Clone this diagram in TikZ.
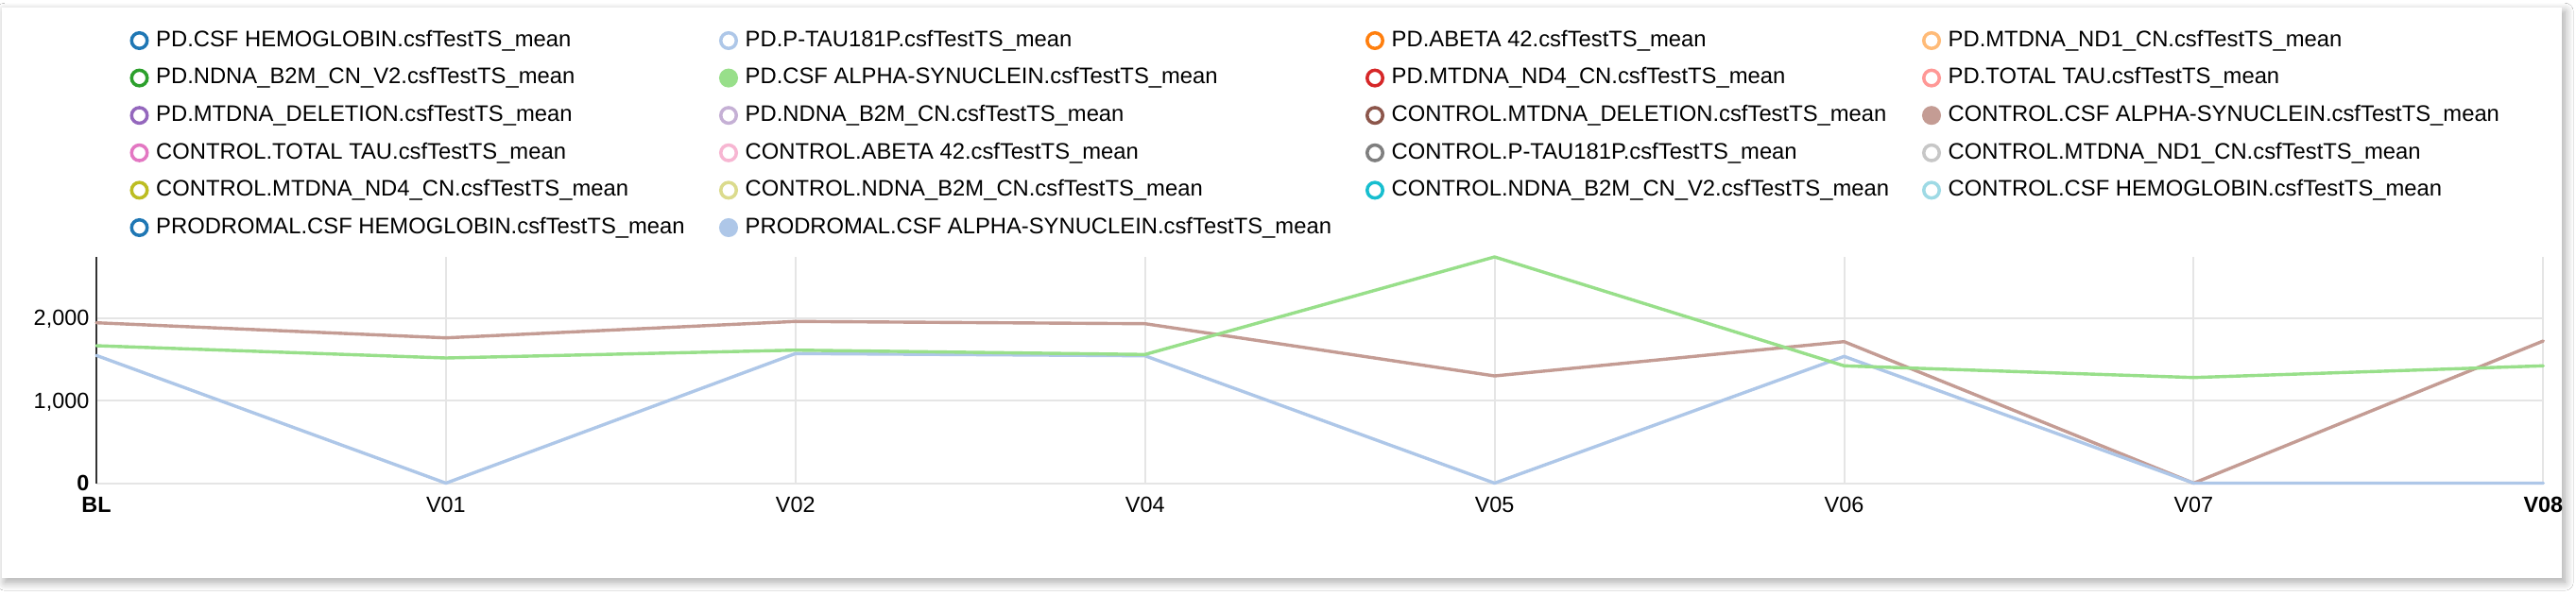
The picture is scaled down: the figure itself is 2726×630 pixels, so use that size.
\documentclass[tikz,border=0pt]{standalone}
\usepackage{fontspec}
\setmainfont{Liberation Sans}
\usetikzlibrary{shadows.blur}
\definecolor{cA}{HTML}{1F77B4}
\definecolor{cB}{HTML}{AEC7E8}
\definecolor{cC}{HTML}{FF7F0E}
\definecolor{cD}{HTML}{FFBB78}
\definecolor{cE}{HTML}{2CA02C}
\definecolor{cF}{HTML}{98DF8A}
\definecolor{cG}{HTML}{D62728}
\definecolor{cH}{HTML}{FF9896}
\definecolor{cI}{HTML}{9467BD}
\definecolor{cJ}{HTML}{C5B0D5}
\definecolor{cK}{HTML}{8C564B}
\definecolor{cL}{HTML}{C49C94}
\definecolor{cM}{HTML}{E377C2}
\definecolor{cN}{HTML}{F7B6D2}
\definecolor{cO}{HTML}{7F7F7F}
\definecolor{cP}{HTML}{C7C7C7}
\definecolor{cQ}{HTML}{BCBD22}
\definecolor{cR}{HTML}{DBDB8D}
\definecolor{cS}{HTML}{17BECF}
\definecolor{cT}{HTML}{9EDAE5}
\definecolor{gridc}{HTML}{E5E5E5}
\definecolor{axisc}{HTML}{333333}
\newcommand\legitem[6]{%
  \node[legdot,draw=#4,fill=#5] (#6d) at (#2,#3) {};
  \node[legtext] (#6) at (#2+17.5,#3) {#1};
}
\begin{document}
\begin{tikzpicture}[x=1pt,y=-1pt,
  legdot/.style={circle,line width=3.5pt,minimum size=16.5pt,inner sep=0pt},
  legtext/.style={anchor=west,inner sep=0pt,font=\fontsize{23.8}{27}\selectfont},
  ticklab/.style={inner sep=0pt,font=\fontsize{23.4}{27}\selectfont},
  boldlab/.style={font=\fontsize{23.4}{27}\selectfont\bfseries},
  gridline/.style={draw=gridc,line width=2pt},
  series/.style={line width=3.4pt,line join=round,line cap=round}]
\useasboundingbox (0,0) rectangle (2726,630);
\fill[white] (0,0) rectangle (2726,630);
% card with shadow
\node[draw=none,fill=white,minimum width=2709pt,minimum height=604pt,inner sep=0pt,anchor=north west,
  blur shadow={shadow xshift=3pt,shadow yshift=-4pt,shadow blur radius=9pt,shadow blur steps=12,shadow opacity=35}] (card) at (2,8) {};
% legend
\def\ya{43}\def\yb{82.6}\def\yc{122.2}\def\yd{161.8}\def\ye{201.4}\def\yf{241}
\legitem{PD.CSF HEMOGLOBIN.csfTestTS\_mean}{147.5}{\ya}{cA}{white}{l1}
\legitem{PD.P-TAU181P.csfTestTS\_mean}{771}{\ya}{cB}{white}{l2}
\legitem{PD.ABETA 42.csfTestTS\_mean}{1455}{\ya}{cC}{white}{l3}
\legitem{PD.MTDNA\_ND1\_CN.csfTestTS\_mean}{2044}{\ya}{cD}{white}{l4}
\legitem{PD.NDNA\_B2M\_CN\_V2.csfTestTS\_mean}{147.5}{\yb}{cE}{white}{l5}
\legitem{PD.CSF ALPHA-SYNUCLEIN.csfTestTS\_mean}{771}{\yb}{cF}{cF}{l6}
\legitem{PD.MTDNA\_ND4\_CN.csfTestTS\_mean}{1455}{\yb}{cG}{white}{l7}
\legitem{PD.TOTAL TAU.csfTestTS\_mean}{2044}{\yb}{cH}{white}{l8}
\legitem{PD.MTDNA\_DELETION.csfTestTS\_mean}{147.5}{\yc}{cI}{white}{l9}
\legitem{PD.NDNA\_B2M\_CN.csfTestTS\_mean}{771}{\yc}{cJ}{white}{l10}
\legitem{CONTROL.MTDNA\_DELETION.csfTestTS\_mean}{1455}{\yc}{cK}{white}{l11}
\legitem{CONTROL.CSF ALPHA-SYNUCLEIN.csfTestTS\_mean}{2044}{\yc}{cL}{cL}{l12}
\legitem{CONTROL.TOTAL TAU.csfTestTS\_mean}{147.5}{\yd}{cM}{white}{l13}
\legitem{CONTROL.ABETA 42.csfTestTS\_mean}{771}{\yd}{cN}{white}{l14}
\legitem{CONTROL.P-TAU181P.csfTestTS\_mean}{1455}{\yd}{cO}{white}{l15}
\legitem{CONTROL.MTDNA\_ND1\_CN.csfTestTS\_mean}{2044}{\yd}{cP}{white}{l16}
\legitem{CONTROL.MTDNA\_ND4\_CN.csfTestTS\_mean}{147.5}{\ye}{cQ}{white}{l17}
\legitem{CONTROL.NDNA\_B2M\_CN.csfTestTS\_mean}{771}{\ye}{cR}{white}{l18}
\legitem{CONTROL.NDNA\_B2M\_CN\_V2.csfTestTS\_mean}{1455}{\ye}{cS}{white}{l19}
\legitem{CONTROL.CSF HEMOGLOBIN.csfTestTS\_mean}{2044}{\ye}{cT}{white}{l20}
\legitem{PRODROMAL.CSF HEMOGLOBIN.csfTestTS\_mean}{147.5}{\yf}{cA}{white}{l21}
\legitem{PRODROMAL.CSF ALPHA-SYNUCLEIN.csfTestTS\_mean}{771}{\yf}{cB}{cB}{l22}
% axes geometry
\def\ytop{272}\def\yzero{511.5}\def\yone{424}\def\ytwo{336.5}
% vertical grid + x tick labels
\foreach \i/\lab/\bf in {0/BL/1,1/V01/0,2/V02/0,3/V04/0,4/V05/0,5/V06/0,6/V07/0,7/V08/1}{
  \pgfmathsetmacro\xx{102+369.9*\i}
  \coordinate (g\i t) at (\xx,\ytop);
  \coordinate (g\i b) at (\xx,\yzero);
  \draw[gridline] (g\i t) -- (g\i b);
  \ifnum\bf=1
    \node[ticklab,boldlab,anchor=north] (x\i) at (\xx,526) {\lab};
  \else
    \node[ticklab,anchor=north] (x\i) at (\xx,526) {\lab};
  \fi
}
% horizontal grid
\coordinate (h0l) at (102,\yzero); \coordinate (h0r) at (2691.3,\yzero);
\coordinate (h1l) at (102,\yone);  \coordinate (h1r) at (2691.3,\yone);
\coordinate (h2l) at (102,\ytwo);  \coordinate (h2r) at (2691.3,\ytwo);
\draw[gridline] (h0l) -- (h0r);
\draw[gridline] (h1l) -- (h1r);
\draw[gridline] (h2l) -- (h2r);
% y axis
\coordinate (yat) at (102,\ytop);
\draw[draw=axisc,line width=2.2pt] (yat) -- (h0l);
\node[ticklab,anchor=base east] (y2) at (94.5,\ytwo+8.3) {2,000};
\node[ticklab,anchor=base east] (y1) at (94.5,\yone+8.3) {1,000};
\node[ticklab,boldlab,anchor=base east] (y0) at (94.5,\yzero+8.3) {0};
% data points
\foreach \i/\b/\g/\p in {0/341.7/366/376.3, 1/357.7/379/511.5, 2/340.3/370.7/374.3, 3/342.7/375.3/376.7,
                        4/398/272/511.5, 5/361.7/387.3/377.3, 6/511.5/399.7/511.5, 7/361/387.3/511.5}{
  \pgfmathsetmacro\xx{102+369.9*\i}
  \coordinate (b\i) at (\xx,\b);
  \coordinate (g\i) at (\xx,\g);
  \coordinate (p\i) at (\xx,\p);
}
\draw[series,draw=cL] (b0) -- (b1) -- (b2) -- (b3) -- (b4) -- (b5) -- (b6) -- (b7);
\draw[series,draw=cB] (p0) -- (p1) -- (p2) -- (p3) -- (p4) -- (p5) -- (p6) -- (p7);
\draw[series,draw=cF] (g0) -- (g1) -- (g2) -- (g3) -- (g4) -- (g5) -- (g6) -- (g7);
\end{tikzpicture}
\end{document}
